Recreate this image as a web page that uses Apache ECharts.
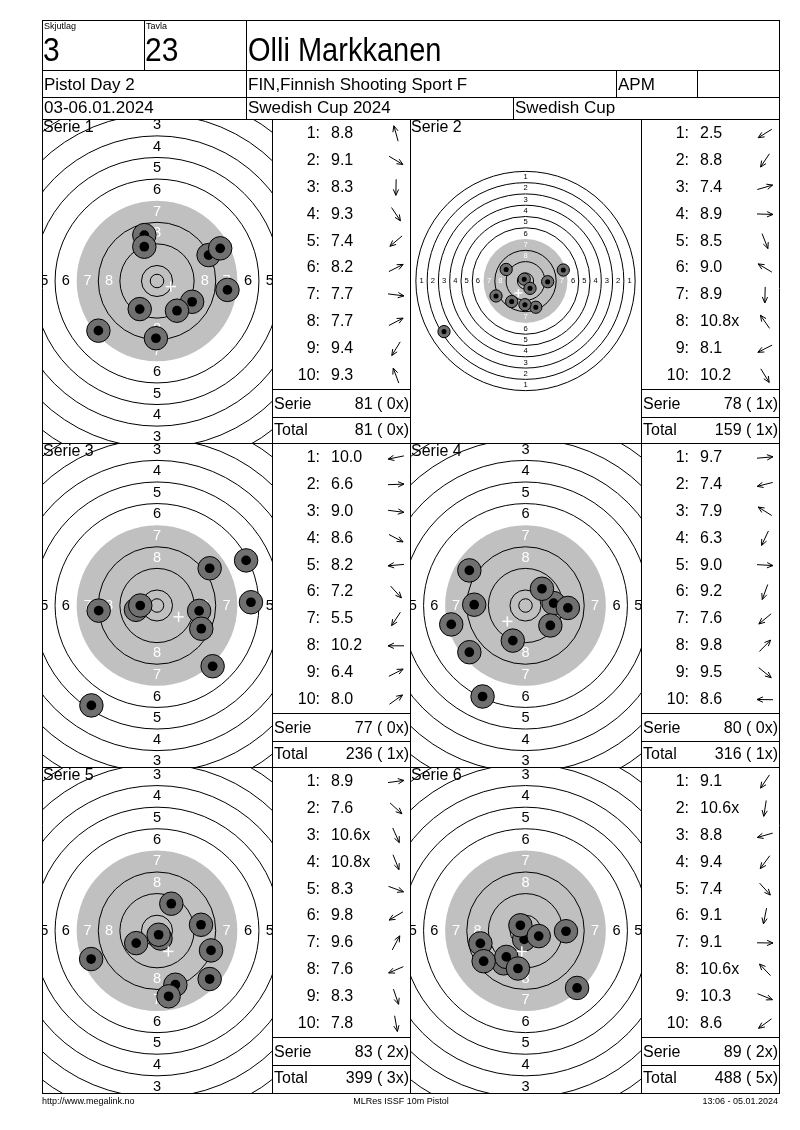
<!DOCTYPE html>
<html><head><meta charset="utf-8">
<script src="https://cdn.jsdelivr.net/npm/echarts@6/dist/echarts.min.js"></script>
<style>html,body{margin:0;padding:0;background:#fff}#c{width:800px;height:1130px}</style>
</head><body><div id="c"></div>
<script>
// ---------------- DATA ----------------
const serieNames = ['Serie 1','Serie 2','Serie 3','Serie 4','Serie 5','Serie 6'];
// shot positions in mm from target centre (x right, y up)
const s1X = [-4.7, 13.0, -0.4, 7.4, -21.7, 19.1, 26.1, 23.4, -6.4, -4.7];
const s1Y = [17.0, -7.7, -21.2, -11.0, -18.4, 9.6, -3.3, 12.1, -10.4, 12.7];
const s1Scores = ['8.8','9.1','8.3','9.3','7.4','8.2','7.7','7.7','9.4','9.3'];
const s2X = [-57.8, -9.8, 26.8, 15.7, 7.3, -13.7, -0.4, -0.9, -20.9, 3.2];
const s2Y = [-35.9, -14.6, 7.8, -0.5, -18.6, 8.2, -16.8, 1.3, -10.6, -5.2];
const s2Scores = ['2.5','8.8','7.4','8.9','8.5','9.0','8.9','10.8x','8.1','10.2'];
const s3X = [-7.8, 34.8, 15.6, 16.4, -21.6, 20.6, -24.3, -6.2, 33.0, 19.5];
const s3Y = [-1.6, 1.2, -2.0, -8.6, -1.9, -22.5, -37.0, 0.0, 16.7, 13.8];
const s3Scores = ['10.0','6.6','9.0','8.6','8.2','7.2','5.5','10.2','6.4','8.0'];
const s4X = [10.4, -27.5, -20.8, -15.9, 15.7, -4.7, -20.8, 6.1, 9.2, -19.0];
const s4Y = [0.9, -7.0, 13.0, -33.7, -0.9, -13.0, -17.3, 6.2, -7.4, 0.3];
const s4Scores = ['9.7','7.4','7.9','6.3','9.0','9.2','7.6','9.8','9.5','8.6'];
const s5X = [16.3, 19.5, 1.3, 0.6, 20.0, -7.7, 5.3, -24.4, 6.8, 4.3];
const s5Y = [2.2, -17.9, -2.9, -1.5, -7.3, -4.6, 10.0, -10.5, -20.0, -24.3];
const s5Scores = ['8.9','7.6','10.6x','10.8x','8.3','9.8','9.6','7.6','8.3','7.8'];
const s6X = [-8.1, -0.5, -16.7, -7.1, 19.1, -2.8, 15.0, -1.9, 4.9, -15.5];
const s6Y = [-12.1, -3.2, -4.7, -9.7, -21.2, -14.0, -0.2, 2.0, -2.0, -11.3];
const s6Scores = ['9.1','10.6x','8.8','9.4','7.4','9.1','9.1','10.6x','10.3','8.6'];
const serieSums = [81, 78, 77, 80, 83, 89];
const serieInner = [0, 1, 0, 0, 2, 2];
const totalSums = [81, 159, 236, 316, 399, 488];
const totalInner = [0, 1, 1, 1, 3, 5];
// target (ISSF 10m air pistol) ring numbers and ring radii in mm
const ringLabels = [1, 2, 3, 4, 5, 6, 7, 8];
const ringLineRadius = [77.75, 69.75, 61.75, 53.75, 45.75, 37.75, 21.75, 13.75, 5.75, 2.5];
const blackRadius = 29.75;
// header texts
const shooterName = 'Olli Markkanen';
const relay = '3', lane = '23';
const eventName = 'Pistol Day 2', club = 'FIN,Finnish Shooting Sport F', klass = 'APM';
const dates = '03-06.01.2024', competition = 'Swedish Cup 2024', cup = 'Swedish Cup';
const footerLeft = 'http://www.megalink.no', footerMid = 'MLRes ISSF 10m Pistol', footerRight = '13:06 - 05.01.2024';

const shotX = [s1X, s2X, s3X, s4X, s5X, s6X];
const shotY = [s1Y, s2Y, s3Y, s4Y, s5Y, s6Y];
const shotScores = [s1Scores, s2Scores, s3Scores, s4Scores, s5Scores, s6Scores];

// ---------------- LAYOUT ----------------
const FONT = '"Liberation Sans", Arial, sans-serif';
const panels = [
  {x:42,  y:119, w:230, h:324, cx:157,   cy:281,   scale:2.7,  lx:272, lw:138},
  {x:410, y:119, w:231, h:324, cx:525.5, cy:281,   scale:1.41, lx:641, lw:138},
  {x:42,  y:443, w:230, h:324, cx:157,   cy:605.5, scale:2.7,  lx:272, lw:138},
  {x:410, y:443, w:231, h:324, cx:525.5, cy:605.5, scale:2.7,  lx:641, lw:138},
  {x:42,  y:767, w:230, h:326, cx:157,   cy:930.7, scale:2.7,  lx:272, lw:138},
  {x:410, y:767, w:231, h:326, cx:525.5, cy:930.7, scale:2.7,  lx:641, lw:138}
];

const grids = [], xAxes = [], yAxes = [], series = [];
function clipOf(params){ const c = params.coordSys; return {type:'rect', shape:{x:c.x, y:c.y, width:c.width, height:c.height}}; }

panels.forEach((p, k) => {
  grids.push({left:p.x, top:p.y, width:p.w, height:p.h, containLabel:false, show:false});
  xAxes.push({type:'value', gridIndex:k, show:false, min:(p.x - p.cx)/p.scale, max:(p.x + p.w - p.cx)/p.scale});
  yAxes.push({type:'value', gridIndex:k, show:false, min:-(p.y + p.h - p.cy)/p.scale, max:(p.cy - p.y)/p.scale});
  const base = {type:'custom', coordinateSystem:'cartesian2d', xAxisIndex:k, yAxisIndex:k, silent:true, animation:false, clip:true};
  // black (grey) area
  series.push(Object.assign({}, base, {
    z:1, data:[[0, 0, blackRadius]],
    renderItem:(params, api) => {
      const c = api.coord([0, 0]); const r = api.size([api.value(2), 0])[0];
      return {type:'group', clipPath:clipOf(params), children:[{type:'circle', shape:{cx:c[0], cy:c[1], r:r}, style:{fill:'#c0c0c0', stroke:null}}]};
    }
  }));
  // ring lines
  series.push(Object.assign({}, base, {
    z:2, data:ringLineRadius.map(r => [0, 0, r]),
    renderItem:(params, api) => {
      const c = api.coord([0, 0]); const r = api.size([api.value(2), 0])[0];
      return {type:'group', clipPath:clipOf(params), children:[{type:'circle', shape:{cx:c[0], cy:c[1], r:r}, style:{fill:null, stroke:'#000', lineWidth:1}}]};
    }
  }));
  // ring numbers
  series.push(Object.assign({}, base, {
    z:3, data:ringLabels.map(n => [0, 0, n]),
    renderItem:(params, api) => {
      const n = api.value(2);
      const c = api.coord([0, 0]);
      const rr = api.size([1.75 + (10 - n) * 8, 0])[0];
      const fs = Math.max(6, api.size([5.4, 0])[0]);
      const col = n >= 7 ? '#ffffff' : '#000000';
      const pts = [[c[0], c[1] - rr], [c[0], c[1] + rr], [c[0] - rr, c[1]], [c[0] + rr, c[1]]];
      return {type:'group', clipPath:clipOf(params), children:pts.map(q => ({type:'text', x:q[0], y:q[1],
        style:{text:String(n), fill:col, font:fs.toFixed(1) + 'px ' + FONT, align:'center', verticalAlign:'middle', textAlign:'center', textVerticalAlign:'middle'}}))};
    }
  }));
  // shots
  const xs = shotX[k], ys = shotY[k];
  series.push(Object.assign({}, base, {
    z:4, data:xs.map((x, i) => [x, ys[i]]),
    renderItem:(params, api) => {
      const c = api.coord([api.value(0), api.value(1)]);
      const R = api.size([4.35, 0])[0], r = api.size([1.8, 0])[0];
      return {type:'group', clipPath:clipOf(params), children:[
        {type:'circle', shape:{cx:c[0], cy:c[1], r:R}, style:{fill:'#707070', stroke:'#000', lineWidth:1}},
        {type:'circle', shape:{cx:c[0], cy:c[1], r:r}, style:{fill:'#000', stroke:null}}
      ]};
    }
  }));
  // mean point of impact cross
  const mx = xs.reduce((a, b) => a + b, 0) / xs.length;
  const my = ys.reduce((a, b) => a + b, 0) / ys.length;
  series.push(Object.assign({}, base, {
    z:5, data:[[mx, my]],
    renderItem:(params, api) => {
      const c = api.coord([api.value(0), api.value(1)]);
      const a = Math.max(4, api.size([1.9, 0])[0]);
      return {type:'group', children:[
        {type:'line', shape:{x1:c[0] - a, y1:c[1], x2:c[0] + a, y2:c[1]}, style:{stroke:'#fff', lineWidth:1.5}},
        {type:'line', shape:{x1:c[0], y1:c[1] - a, x2:c[0], y2:c[1] + a}, style:{stroke:'#fff', lineWidth:1.5}}
      ]};
    }
  }));
});

// ---------------- TABLE GRAPHICS ----------------
const G = [];
function hl(x1, x2, y){ G.push({type:'line', z:100, shape:{x1:x1, y1:y + 0.5, x2:x2, y2:y + 0.5}, style:{stroke:'#000', lineWidth:1}}); }
function vl(x, y1, y2){ G.push({type:'line', z:100, shape:{x1:x + 0.5, y1:y1, x2:x + 0.5, y2:y2}, style:{stroke:'#000', lineWidth:1}}); }
function tx(t, x, y, size, align, sy){
  G.push({type:'text', z:100, x:x, y:y, scaleY:sy || 1, style:{text:t, fill:'#000', font:size + 'px ' + FONT,
    align:align || 'left', verticalAlign:'middle', textAlign:align || 'left', textVerticalAlign:'middle'}});
}
// frame
hl(42, 780, 20); hl(42, 780, 1093); vl(42, 20, 1094); vl(779, 20, 1094);
hl(42, 780, 70); hl(42, 780, 97); hl(42, 780, 119); hl(42, 780, 443); hl(42, 780, 767);
vl(144, 20, 70); vl(246, 20, 119); vl(616, 70, 97); vl(697, 70, 97); vl(513, 97, 119);
vl(272, 119, 1093); vl(410, 119, 1093); vl(641, 119, 1093);
// header text
tx('Skjutlag', 44, 27, 9); tx('Tavla', 146, 27, 9);
tx(relay, 43, 52, 30, 'left', 1.12); tx(lane, 145, 52, 30, 'left', 1.12); tx(shooterName, 248, 52, 29, 'left', 1.12);
tx(eventName, 44, 85, 17); tx(club, 248, 85, 17); tx(klass, 618, 85, 17);
tx(dates, 44, 108, 17); tx(competition, 248, 108, 17); tx(cup, 515, 108, 17);
// footer
tx(footerLeft, 42, 1102, 9); tx(footerMid, 401, 1102, 9, 'center'); tx(footerRight, 778, 1102, 9, 'right');

// panels: titles, shot lists, arrows, sums
panels.forEach((p, k) => {
  tx(serieNames[k], p.x + 1, p.y + 9, 16);
  const L = p.lx;
  const xs = shotX[k], ys = shotY[k];
  shotScores[k].forEach((s, i) => {
    const ry = p.y + 14.5 + 26.9 * i;
    tx((i + 1) + ':', L + 48, ry, 16, 'right');
    tx(s, L + 59, ry, 16);
    const ang = Math.atan2(ys[i], xs[i]);
    const ax = L + 124, half = 8, hlen = 6.5, th = 0.42;
    const tipX = ax + half * Math.cos(ang), tipY = ry - half * Math.sin(ang);
    const tailX = ax - half * Math.cos(ang), tailY = ry + half * Math.sin(ang);
    const h1x = tipX - hlen * Math.cos(ang + th), h1y = tipY + hlen * Math.sin(ang + th);
    const h2x = tipX - hlen * Math.cos(ang - th), h2y = tipY + hlen * Math.sin(ang - th);
    G.push({type:'polyline', z:100, shape:{points:[[tailX, tailY], [tipX, tipY]]}, style:{stroke:'#000', lineWidth:1, fill:null}});
    G.push({type:'polyline', z:100, shape:{points:[[h1x, h1y], [tipX, tipY], [h2x, h2y]]}, style:{stroke:'#000', lineWidth:1, fill:null}});
  });
  hl(L, L + p.lw, p.y + 270); hl(L, L + p.lw, p.y + 298);
  tx('Serie', L + 2, p.y + 285.5, 16); tx(serieSums[k] + ' ( ' + serieInner[k] + 'x)', L + p.lw - 1, p.y + 285.5, 16, 'right');
  tx('Total', L + 2, p.y + 312, 16); tx(totalSums[k] + ' ( ' + totalInner[k] + 'x)', L + p.lw - 1, p.y + 312, 16, 'right');
});

const chart = echarts.init(document.getElementById('c'), null, {renderer:'canvas', width:800, height:1130});
chart.setOption({
  backgroundColor:'#ffffff',
  animation:false,
  grid:grids, xAxis:xAxes, yAxis:yAxes,
  series:series,
  graphic:{elements:G}
});
</script>
</body></html>
